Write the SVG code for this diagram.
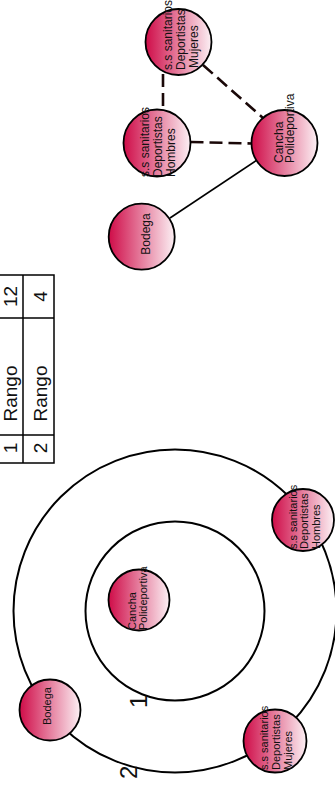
<svg xmlns="http://www.w3.org/2000/svg" width="335" height="787" viewBox="0 0 335 787">
<defs>
<linearGradient id="pink" x1="0" y1="0" x2="1" y2="0">
<stop offset="0" stop-color="#cf0c48"/>
<stop offset="1" stop-color="#fcf0f4"/>
</linearGradient>
</defs>
<style>
.node{fill:url(#pink);stroke:#000;stroke-width:1.8}
text{font-family:"Liberation Sans",Arial,sans-serif;fill:#111}
.t12{font-size:12px}
.t11{font-size:11px}
.ring{fill:none;stroke:#000;stroke-width:2}
.dash{fill:none;stroke:#1a0808;stroke-width:2.6;stroke-dasharray:13 6}
.solid{fill:none;stroke:#000;stroke-width:1.6}
.tbl{fill:none;stroke:#000;stroke-width:1.5}
.big{font-size:19px;text-anchor:middle}
.ringlbl{font-size:24px}
</style>

<g id="rings">
<circle class="ring" cx="175" cy="611" r="161.5"/>
<circle class="ring" cx="175" cy="611" r="89.5"/>
<text class="ringlbl" transform="translate(147,708) rotate(-90)">1</text>
<text class="ringlbl" transform="translate(137,779) rotate(-90)">2</text>
</g>

<g id="table">
<rect class="tbl" x="-8" y="275" width="62" height="188"/>
<line class="tbl" x1="23" y1="275" x2="23" y2="463"/>
<line class="tbl" x1="-8" y1="318" x2="54" y2="318"/>
<line class="tbl" x1="-8" y1="435" x2="54" y2="435"/>
<text class="big" transform="translate(16.5,448) rotate(-90)">1</text>
<text class="big" transform="translate(16.5,393.5) rotate(-90)">Rango</text>
<text class="big" transform="translate(16.5,296.5) rotate(-90)">12</text>
<text class="big" transform="translate(46.5,448) rotate(-90)">2</text>
<text class="big" transform="translate(46.5,393.5) rotate(-90)">Rango</text>
<text class="big" transform="translate(46.5,296.5) rotate(-90)">4</text>
</g>

<g id="connectors">
<line class="dash" x1="163" y1="74" x2="163" y2="109"/>
<line class="dash" x1="203" y1="65" x2="263" y2="118"/>
<line class="dash" x1="190.5" y1="142" x2="251.5" y2="143.5"/>
<line class="solid" x1="170" y1="218" x2="257" y2="160"/>
</g>

<g id="mujeres-top">
<circle class="node" cx="178.5" cy="42" r="33"/>
<text class="t12" transform="translate(178.5,42) rotate(-90)"><tspan x="-28" y="-7">s.s sanitarios</tspan><tspan x="-28" y="6">Deportistas</tspan><tspan x="-26" y="19">Mujeres</tspan></text>
</g>

<g id="hombres-top">
<circle class="node" cx="157" cy="143" r="33.5"/>
<text class="t12" transform="translate(157,143) rotate(-90)"><tspan x="-34" y="-8.5">s.s sanitarios</tspan><tspan x="-34" y="4.5">Deportistas</tspan><tspan x="-34" y="17.5">Hombres</tspan></text>
</g>

<g id="cancha-top">
<circle class="node" cx="284.5" cy="143" r="33"/>
<text class="t12" transform="translate(284.5,143) rotate(-90)"><tspan x="-20" y="-1.5">Cancha</tspan><tspan x="-20" y="9.5">Polideportiva</tspan></text>
</g>

<g id="bodega-top">
<circle class="node" cx="141.7" cy="236.7" r="33"/>
<text class="t12" transform="translate(141.7,236.7) rotate(-90)"><tspan x="-18" y="8.5">Bodega</tspan></text>
</g>

<g id="cancha-inner">
<circle class="node" cx="139" cy="600" r="30.5"/>
<text class="t11" transform="translate(139,600) rotate(-90)"><tspan x="-30" y="-3">Cancha</tspan><tspan x="-30" y="8">Polideportiva</tspan></text>
</g>

<g id="hombres-outer">
<circle class="node" cx="303" cy="520" r="31"/>
<text class="t11" transform="translate(303,520) rotate(-90)"><tspan x="-29" y="-6.5">s.s sanitarios</tspan><tspan x="-29" y="5">Deportistas</tspan><tspan x="-29" y="17">Hombres</tspan></text>
</g>

<g id="mujeres-outer">
<circle class="node" cx="275" cy="741" r="31.5"/>
<text class="t11" transform="translate(275,741) rotate(-90)"><tspan x="-29" y="-7">s.s sanitarios</tspan><tspan x="-29" y="5">Deportistas</tspan><tspan x="-29" y="16.5">Mujeres</tspan></text>
</g>

<g id="bodega-outer">
<circle class="node" cx="50" cy="710" r="30.5"/>
<text class="t11" transform="translate(50,710) rotate(-90)"><tspan x="-15" y="1">Bodega</tspan></text>
</g>
</svg>
